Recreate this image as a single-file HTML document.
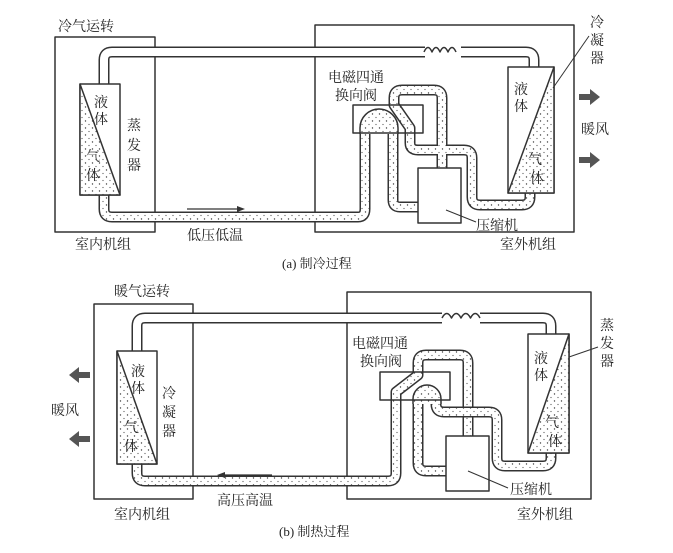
<!DOCTYPE html>
<html><head><meta charset="utf-8"><style>
html,body{margin:0;padding:0;background:#fff;}
svg{display:block;}
text{font-family:"Liberation Serif","Noto Serif CJK SC","Noto Sans CJK SC",serif;font-size:14px;fill:#222;}
</style></head><body>
<svg width="673" height="553" viewBox="0 0 673 553" xmlns="http://www.w3.org/2000/svg">
<defs>
<pattern id="dots" width="7" height="7" patternUnits="userSpaceOnUse">
<rect width="7" height="7" fill="#fff"/>
<circle cx="1.5" cy="2" r="0.7" fill="#444"/>
<circle cx="5" cy="5.5" r="0.6" fill="#555"/>
</pattern>
</defs>
<g fill="none" stroke-linejoin="round" stroke-linecap="butt">
<!-- ===== TOP (a) ===== -->
<rect x="55" y="37" width="100" height="195" stroke="#333" stroke-width="1.5" fill="#fff"/>
<rect x="315" y="25" width="259" height="207" stroke="#333" stroke-width="1.5" fill="#fff"/>
<path d="M104,84 L104,60 Q104,52 112,52 L425,52 M461,52 L526,52 Q534,52 534,60 L534,67" stroke="#333" stroke-width="11"/>
<path d="M104,84 L104,60 Q104,52 112,52 L425,52 M461,52 L526,52 Q534,52 534,60 L534,67" stroke="#fff" stroke-width="8"/>
<path d="M424,52 q4,-9 8,0 q4,-9 8,0 q4,-9 8,0 q4,-9 8,0" stroke="#333" stroke-width="1.5"/>
<rect x="353" y="105" width="70" height="28" fill="#fff" stroke="none"/>
<path d="M104,195 L104,209 Q104,217 112,217 L358,217 Q365,217 365,209 L365,128 A14,14 0 0 1 393,128 L393,200 Q393,207 400,207 L420,207" stroke="#333" stroke-width="11"/>
<path d="M104,195 L104,209 Q104,217 112,217 L358,217 Q365,217 365,209 L365,128 A14,14 0 0 1 393,128 L393,200 Q393,207 400,207 L420,207" stroke="url(#dots)" stroke-width="8"/>
<path d="M442,168 L442,98 Q442,90 434,90 L402,90 Q394,90 394,98 L394,105 L410,128 L410,143 Q410,150 418,150 L464,150 Q472,150 472,158 L472,197 Q472,205 480,205 L522,205 Q530,205 530,197 L530,193" stroke="#333" stroke-width="11"/>
<path d="M442,168 L442,98 Q442,90 434,90 L402,90 Q394,90 394,98 L394,105 L410,128 L410,143 Q410,150 418,150 L464,150 Q472,150 472,158 L472,197 Q472,205 480,205 L522,205 Q530,205 530,197 L530,193" stroke="url(#dots)" stroke-width="8"/>
<!-- filled dome -->
<path d="M360.5,134 L360.5,128 A18.5,18.5 0 0 1 397.5,128 L397.5,134 Z" fill="url(#dots)" stroke="none"/>
<path d="M360,134 L360,128 A19,19 0 0 1 398,128 L398,134" stroke="#333" stroke-width="1.5"/>
<rect x="353" y="105" width="70" height="28" stroke="#333" stroke-width="1.5"/>
<rect x="418" y="168" width="43" height="55" stroke="#333" stroke-width="1.5" fill="#fff"/>
<rect x="80" y="84" width="40" height="111" fill="#fff" stroke="#333" stroke-width="1.5"/>
<path d="M80,84 L120,195 L80,195 Z" fill="url(#dots)" stroke="#333" stroke-width="1.5"/>
<rect x="508" y="67" width="46" height="126" fill="#fff" stroke="#333" stroke-width="1.5"/>
<path d="M554,67 L554,193 L508,193 Z" fill="url(#dots)" stroke="#333" stroke-width="1.5"/>
<path d="M589,36 L553,88" stroke="#333" stroke-width="1"/>
<path d="M446,210 L476,222" stroke="#333" stroke-width="1"/>
<path d="M187,209 L240,209" stroke="#333" stroke-width="1.2"/>
<path d="M245,209 L237,206 L237,212 Z" fill="#333"/>
<path d="M579,94 L590,94 L590,89 L600,97 L590,105 L590,100 L579,100 Z" fill="#555"/>
<path d="M579,157 L590,157 L590,152 L600,160 L590,168 L590,163 L579,163 Z" fill="#555"/>

<!-- ===== BOTTOM (b) ===== -->
<rect x="94" y="304" width="99" height="195" stroke="#333" stroke-width="1.5" fill="#fff"/>
<rect x="347" y="292" width="244" height="207" stroke="#333" stroke-width="1.5" fill="#fff"/>
<path d="M137,351 L137,326 Q137,318 145,318 L442,318 M480,318 L543,318 Q551,318 551,326 L551,334" stroke="#333" stroke-width="11"/>
<path d="M137,351 L137,326 Q137,318 145,318 L442,318 M480,318 L543,318 Q551,318 551,326 L551,334" stroke="#fff" stroke-width="8"/>
<path d="M442,318 q4.75,-9 9.5,0 q4.75,-9 9.5,0 q4.75,-9 9.5,0 q4.75,-9 9.5,0" stroke="#333" stroke-width="1.5"/>
<rect x="380" y="372" width="70" height="28" fill="#fff" stroke="none"/>
<path d="M137,464 L137,473 Q137,481 145,481 L388,481 Q396,481 396,473 L396,392 L418,375 L418,363 Q418,355 426,355 L460,355 Q468,355 468,363 L468,436" stroke="#333" stroke-width="11"/>
<path d="M137,464 L137,473 Q137,481 145,481 L388,481 Q396,481 396,473 L396,392 L418,375 L418,363 Q418,355 426,355 L460,355 Q468,355 468,363 L468,436" stroke="url(#dots)" stroke-width="8"/>
<path d="M448,471 L426,471 Q418,471 418,463 L418,399 A9,9 0 0 1 436,399 L436,404 Q436,412 444,412 L489,412 Q497,412 497,420 L497,458 Q497,466 505,466 L543,466 Q551,466 551,458 L551,453" stroke="#333" stroke-width="11"/>
<path d="M448,471 L426,471 Q418,471 418,463 L418,399 A9,9 0 0 1 436,399 L436,404 Q436,412 444,412 L489,412 Q497,412 497,420 L497,458 Q497,466 505,466 L543,466 Q551,466 551,458 L551,453" stroke="url(#dots)" stroke-width="8"/>
<path d="M413.5,404 L413.5,399 A13.5,13.5 0 0 1 440.5,399 L440.5,404 Z" fill="url(#dots)" stroke="none"/>
<path d="M413,404 L413,399 A14,14 0 0 1 441,399 L441,404" stroke="#333" stroke-width="1.5"/>
<rect x="380" y="372" width="70" height="28" stroke="#333" stroke-width="1.5"/>
<rect x="446" y="436" width="43" height="55" stroke="#333" stroke-width="1.5" fill="#fff"/>
<rect x="117" y="351" width="40" height="113" fill="#fff" stroke="#333" stroke-width="1.5"/>
<path d="M117,351 L157,464 L117,464 Z" fill="url(#dots)" stroke="#333" stroke-width="1.5"/>
<rect x="528" y="334" width="41" height="119" fill="#fff" stroke="#333" stroke-width="1.5"/>
<path d="M569,334 L569,453 L528,453 Z" fill="url(#dots)" stroke="#333" stroke-width="1.5"/>
<path d="M598,347 L569,357" stroke="#333" stroke-width="1"/>
<path d="M468,471 L508,488" stroke="#333" stroke-width="1"/>
<path d="M272,475 L222,475" stroke="#333" stroke-width="1.2"/>
<path d="M217,475 L225,472 L225,478 Z" fill="#333"/>
<path d="M90,372 L79,372 L79,367 L69,375 L79,383 L79,378 L90,378 Z" fill="#555"/>
<path d="M90,436 L79,436 L79,431 L69,439 L79,447 L79,442 L90,442 Z" fill="#555"/>
</g>

<text x="58" y="31">冷气运转</text>
<text x="94" y="107">液</text><text x="94" y="124">体</text>
<text x="86" y="161" style="fill:#444">气</text><text x="86" y="180">体</text>
<text x="127" y="130">蒸</text><text x="127" y="150">发</text><text x="127" y="170">器</text>
<text x="75" y="249">室内机组</text>
<text x="187" y="240">低压低温</text>
<text x="500" y="249">室外机组</text>
<text x="282" y="268" style="font-size:13px">(a)  制冷过程</text>
<text x="328" y="82">电磁四通</text>
<text x="335" y="100">换向阀</text>
<text x="476" y="230">压缩机</text>
<text x="590" y="27">冷</text><text x="590" y="45">凝</text><text x="590" y="63">器</text>
<text x="581" y="134">暖风</text>
<text x="514" y="94">液</text><text x="514" y="111">体</text>
<text x="528" y="164">气</text><text x="530" y="183">体</text>
<text x="114" y="296">暖气运转</text>
<text x="51" y="415">暖风</text>
<text x="131" y="376">液</text><text x="131" y="393">体</text>
<text x="124" y="432">气</text><text x="124" y="451">体</text>
<text x="162" y="398">冷</text><text x="162" y="417">凝</text><text x="162" y="436">器</text>
<text x="217" y="505">高压高温</text>
<text x="114" y="519">室内机组</text>
<text x="517" y="519">室外机组</text>
<text x="279" y="536" style="font-size:13px">(b)  制热过程</text>
<text x="352" y="348">电磁四通</text>
<text x="360" y="366">换向阀</text>
<text x="510" y="494">压缩机</text>
<text x="600" y="330">蒸</text><text x="600" y="348">发</text><text x="600" y="366">器</text>
<text x="534" y="363">液</text><text x="534" y="380">体</text>
<text x="545" y="427">气</text><text x="548" y="446">体</text>
</svg>
</body></html>
